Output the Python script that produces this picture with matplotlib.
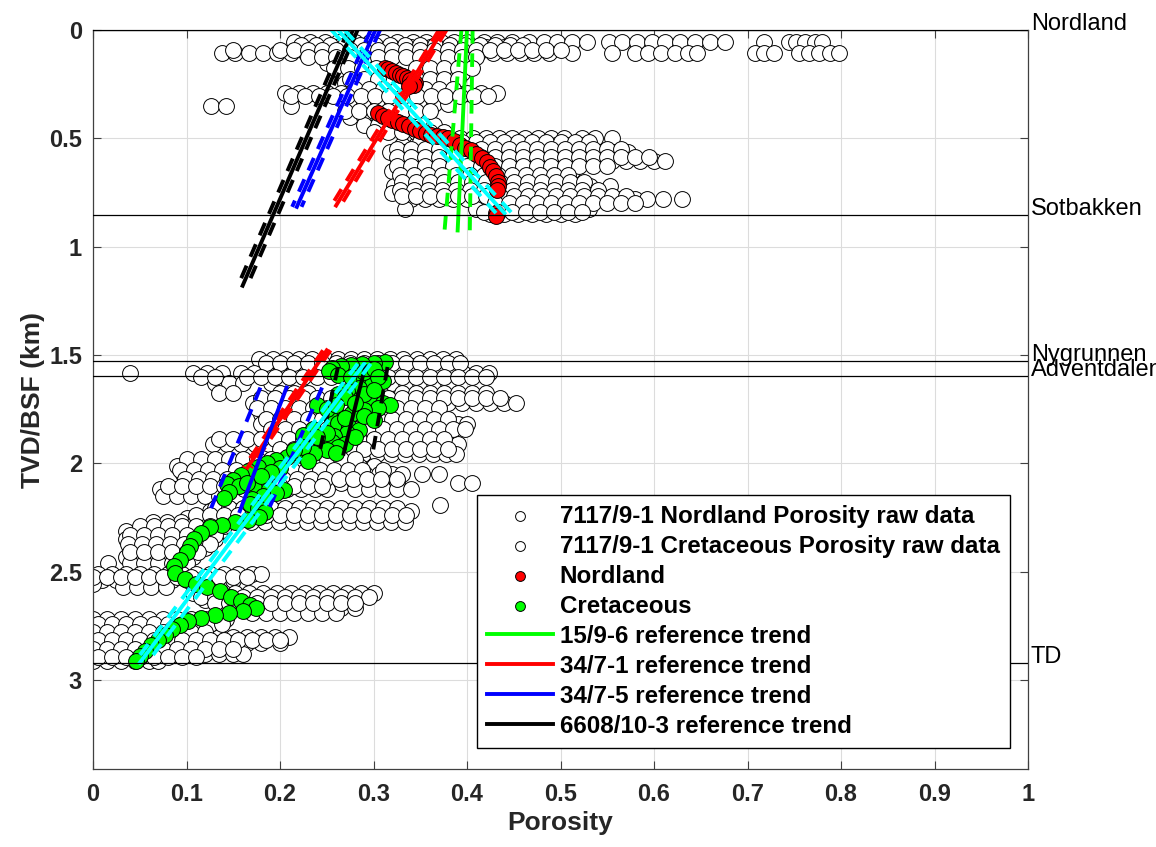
import matplotlib
matplotlib.use("Agg")
import matplotlib.pyplot as plt

plt.rcParams['font.family'] = ['Liberation Sans', 'DejaVu Sans']
plt.rcParams['font.weight'] = 'bold'

# Raw porosity data of 7117/9-1, one list of porosities per depth row (km)
nord_raw_depth = [0.055, 0.08, 0.106, 0.15, 0.20, 0.245, 0.29, 0.34, 0.35, 0.40, 0.44,
                  0.50, 0.53, 0.565, 0.605, 0.65, 0.685, 0.72, 0.75, 0.78, 0.825, 0.85,
                  0.068, 0.092, 0.125, 0.175, 0.225, 0.27, 0.305, 0.375, 0.47, 0.515,
                  0.548, 0.585, 0.628, 0.667, 0.703, 0.737, 0.765, 0.80, 0.84]
nord_raw_poro = [
    [0.215, 0.232, 0.248, 0.262, 0.28, 0.296, 0.31, 0.325, 0.342, 0.356, 0.372, 0.386, 0.40,
     0.418, 0.432, 0.448, 0.466, 0.482, 0.496, 0.512, 0.528, 0.552, 0.566, 0.582, 0.598, 0.612,
     0.628, 0.644, 0.66, 0.676, 0.718, 0.744, 0.752, 0.762, 0.772, 0.78],
    [0.24, 0.26, 0.28, 0.30, 0.32, 0.34, 0.36, 0.38, 0.40, 0.42, 0.44, 0.46],
    [0.138, 0.152, 0.167, 0.182, 0.197, 0.212, 0.228, 0.243, 0.258, 0.274, 0.29, 0.305, 0.32,
     0.336, 0.35, 0.366, 0.382, 0.397, 0.412, 0.428, 0.443, 0.458, 0.472, 0.488, 0.512, 0.555,
     0.58, 0.594, 0.608, 0.622, 0.636, 0.646, 0.708, 0.718, 0.728, 0.755, 0.766, 0.777, 0.788, 0.798],
    [0.25, 0.265, 0.28, 0.295, 0.31, 0.355, 0.37, 0.385, 0.40],
    [0.265, 0.28, 0.295, 0.35, 0.365, 0.38, 0.395],
    [0.27, 0.285, 0.30, 0.355, 0.37, 0.385],
    [0.205, 0.22, 0.235, 0.25, 0.265, 0.28, 0.295, 0.31, 0.325, 0.34, 0.355, 0.37, 0.385, 0.40,
     0.415, 0.432],
    [0.275, 0.29, 0.305, 0.32, 0.335, 0.35, 0.365, 0.38],
    [0.126, 0.142, 0.212],
    [0.275, 0.29, 0.305, 0.32, 0.335, 0.35],
    [0.29, 0.305, 0.32, 0.335, 0.35, 0.365],
    [0.378, 0.392, 0.406, 0.42, 0.434, 0.448, 0.462, 0.476, 0.49, 0.504, 0.523, 0.537, 0.555],
    [0.33, 0.345, 0.36, 0.375, 0.39, 0.405, 0.42, 0.435, 0.45, 0.465, 0.48, 0.495, 0.51, 0.525],
    [0.318, 0.333, 0.348, 0.363, 0.378, 0.393, 0.408, 0.423, 0.438, 0.453, 0.468, 0.483, 0.498,
     0.513, 0.528, 0.543, 0.558, 0.572],
    [0.33, 0.35, 0.37, 0.39, 0.41, 0.435, 0.45, 0.465, 0.48, 0.495, 0.51, 0.525, 0.54, 0.555,
     0.57, 0.585, 0.60, 0.612],
    [0.32, 0.335, 0.35, 0.365, 0.38, 0.395, 0.41, 0.425, 0.44, 0.455, 0.47, 0.485, 0.50, 0.512],
    [0.33, 0.345, 0.36, 0.375, 0.39, 0.405, 0.42, 0.435, 0.45, 0.465, 0.48, 0.495],
    [0.322, 0.337, 0.352, 0.367, 0.382, 0.397, 0.412, 0.427, 0.442, 0.457, 0.472, 0.487, 0.502,
     0.517, 0.532, 0.553],
    [0.32, 0.335, 0.35, 0.365, 0.38, 0.395, 0.41, 0.425, 0.44, 0.455, 0.47, 0.485, 0.50],
    [0.34, 0.355, 0.37, 0.385, 0.40, 0.415, 0.43, 0.445, 0.46, 0.475, 0.49, 0.505, 0.52, 0.535,
     0.55, 0.565, 0.58, 0.592, 0.61, 0.63],
    [0.334, 0.41, 0.425, 0.44, 0.455, 0.47, 0.485, 0.50, 0.515, 0.53],
    [0.425, 0.44, 0.455, 0.47, 0.485, 0.50, 0.515],
    [0.222, 0.238, 0.254, 0.27, 0.286, 0.302, 0.318, 0.334, 0.35, 0.366, 0.382, 0.398, 0.414,
     0.43, 0.446, 0.46],
    [0.15, 0.20, 0.215, 0.23, 0.245, 0.26, 0.275, 0.29, 0.305, 0.32, 0.335, 0.35, 0.365, 0.38,
     0.395, 0.41, 0.425, 0.44, 0.455, 0.47, 0.485, 0.50],
    [0.23, 0.245, 0.26, 0.275, 0.29, 0.305, 0.32, 0.335, 0.35, 0.365, 0.38, 0.395, 0.41],
    [0.258, 0.273, 0.288, 0.303, 0.345, 0.36, 0.375, 0.39, 0.405],
    [0.275, 0.29, 0.305, 0.345, 0.36, 0.375, 0.39],
    [0.28, 0.295, 0.31, 0.325, 0.34, 0.355, 0.37, 0.385],
    [0.212, 0.227, 0.242, 0.257, 0.272, 0.287, 0.302, 0.317, 0.332, 0.347, 0.362, 0.377, 0.392,
     0.407, 0.422],
    [0.27, 0.285, 0.30, 0.315, 0.33, 0.345, 0.36],
    [0.30, 0.315, 0.33, 0.345, 0.36, 0.375],
    [0.35, 0.365, 0.38, 0.395, 0.41, 0.425, 0.44, 0.455, 0.47, 0.485, 0.50, 0.515, 0.53],
    [0.325, 0.34, 0.355, 0.37, 0.385, 0.40, 0.415, 0.43, 0.445, 0.46, 0.475, 0.49, 0.505, 0.52,
     0.535, 0.55, 0.565],
    [0.325, 0.34, 0.355, 0.37, 0.385, 0.40, 0.415, 0.43, 0.445, 0.46, 0.475, 0.49, 0.505, 0.52,
     0.535, 0.55, 0.565, 0.58, 0.595],
    [0.325, 0.34, 0.355, 0.37, 0.385, 0.40, 0.415, 0.43, 0.445, 0.46, 0.475, 0.49, 0.505, 0.52,
     0.535, 0.55],
    [0.328, 0.343, 0.358, 0.373, 0.388, 0.403, 0.418, 0.433, 0.448, 0.463, 0.478, 0.493, 0.508],
    [0.33, 0.345, 0.36, 0.375, 0.39, 0.405, 0.42, 0.435, 0.45, 0.465, 0.48, 0.495, 0.51, 0.525],
    [0.328, 0.343, 0.358, 0.373, 0.388, 0.403, 0.418, 0.433, 0.448, 0.463, 0.478, 0.493, 0.508,
     0.523, 0.54],
    [0.33, 0.345, 0.36, 0.375, 0.39, 0.405, 0.42, 0.435, 0.45, 0.465, 0.48, 0.495, 0.51, 0.525,
     0.54, 0.555, 0.57],
    [0.43, 0.445, 0.46, 0.475, 0.49, 0.505, 0.52, 0.535, 0.55, 0.565, 0.58],
    [0.418, 0.433, 0.448, 0.463, 0.478, 0.493, 0.508, 0.523],
]

cret_raw_depth = [1.52, 1.55, 1.585, 1.63, 1.675, 1.72, 1.77, 1.82, 1.86, 1.91, 1.955, 2.01,
                  2.05, 2.09, 2.12, 2.15, 2.19, 2.22, 2.25, 2.27, 2.31, 2.35, 2.39, 2.43, 2.46,
                  2.51, 2.54, 2.555, 2.57, 2.60, 2.63, 2.665, 2.69, 2.72, 2.76, 2.80, 2.83,
                  2.88, 2.91,
                  1.535, 1.60, 1.70, 1.745, 1.795, 1.84, 1.885, 1.935, 1.98, 2.03, 2.07, 2.105,
                  2.205, 2.237, 2.29, 2.33, 2.37, 2.41, 2.525, 2.615, 2.645, 2.74, 2.78, 2.815,
                  2.855, 2.895]
cret_raw_poro = [
    [0.178, 0.192, 0.206, 0.22, 0.234, 0.248, 0.262, 0.276, 0.29, 0.304, 0.318, 0.332, 0.346,
     0.36, 0.374, 0.388],
    [0.20, 0.22, 0.24, 0.26, 0.28, 0.30, 0.32, 0.34, 0.36],
    [0.04, 0.107, 0.122, 0.138, 0.158, 0.172, 0.186, 0.20, 0.214, 0.228, 0.242, 0.256, 0.27,
     0.284, 0.298, 0.312, 0.326, 0.34, 0.354, 0.368, 0.382, 0.396, 0.41, 0.424],
    [0.13, 0.145, 0.16, 0.19, 0.205, 0.22, 0.32, 0.335, 0.35, 0.365, 0.38],
    [0.135, 0.15, 0.20, 0.215, 0.23, 0.33, 0.345, 0.36, 0.375, 0.39, 0.405, 0.42],
    [0.171, 0.186, 0.20, 0.215, 0.23, 0.245, 0.26, 0.275, 0.29, 0.305, 0.32, 0.335, 0.35, 0.365,
     0.38, 0.395, 0.41, 0.425, 0.44, 0.452],
    [0.18, 0.195, 0.21, 0.225, 0.24, 0.255, 0.27, 0.285, 0.30, 0.315, 0.33, 0.345, 0.36],
    [0.18, 0.195, 0.21, 0.225, 0.24, 0.255, 0.27, 0.285, 0.30, 0.315, 0.33, 0.345, 0.36, 0.375,
     0.39, 0.40],
    [0.20, 0.215, 0.23, 0.245, 0.26, 0.275, 0.29, 0.305, 0.32, 0.335, 0.35, 0.365, 0.38],
    [0.128, 0.143, 0.158, 0.173, 0.188, 0.203, 0.218, 0.233, 0.248, 0.263, 0.278, 0.293, 0.308,
     0.323, 0.338, 0.353, 0.368, 0.383, 0.39],
    [0.214, 0.229, 0.244, 0.259, 0.274, 0.289, 0.304, 0.319, 0.334, 0.349, 0.364, 0.378, 0.388],
    [0.09, 0.105, 0.12, 0.135, 0.15, 0.165, 0.18, 0.195, 0.21, 0.225, 0.24, 0.255, 0.27, 0.285,
     0.30],
    [0.096, 0.111, 0.126, 0.141, 0.156, 0.171, 0.186, 0.201, 0.216, 0.231, 0.246, 0.261, 0.276,
     0.291, 0.306, 0.32, 0.33, 0.352, 0.37],
    [0.10, 0.115, 0.13, 0.145, 0.16, 0.175, 0.19, 0.205, 0.22, 0.235, 0.25, 0.265, 0.28, 0.295,
     0.31, 0.325, 0.39, 0.405],
    [0.072, 0.087, 0.102, 0.117, 0.132, 0.147, 0.162, 0.177, 0.192, 0.207, 0.222, 0.237, 0.25,
     0.28, 0.295, 0.31, 0.325, 0.34],
    [0.075, 0.09, 0.105, 0.12, 0.135],
    [0.371],
    [0.125, 0.14, 0.155, 0.17, 0.185, 0.20, 0.215, 0.23, 0.245, 0.26, 0.275, 0.29, 0.305, 0.32,
     0.34],
    [0.10, 0.115, 0.13, 0.145, 0.16, 0.175, 0.19, 0.205, 0.22, 0.235, 0.25, 0.265, 0.28, 0.30],
    [0.064, 0.079, 0.094, 0.109, 0.124, 0.139, 0.154, 0.169, 0.184, 0.199, 0.214, 0.229, 0.244,
     0.259, 0.274, 0.289, 0.304, 0.319, 0.334],
    [0.035, 0.05, 0.065, 0.08, 0.095, 0.11, 0.125, 0.136],
    [0.035, 0.05, 0.065, 0.08, 0.095, 0.11, 0.13],
    [0.04, 0.055, 0.07, 0.085, 0.10, 0.12],
    [0.035, 0.05, 0.065, 0.08, 0.095, 0.107],
    [0.016, 0.04, 0.055, 0.07, 0.085, 0.10],
    [0.005, 0.02, 0.035, 0.05, 0.065, 0.08, 0.095, 0.11, 0.125, 0.14, 0.155, 0.17, 0.18],
    [0.01, 0.025, 0.04, 0.055, 0.07, 0.085, 0.10, 0.115, 0.13, 0.15],
    [0.0],
    [0.032, 0.047, 0.062, 0.078],
    [0.107, 0.122, 0.137, 0.152, 0.167, 0.182, 0.197, 0.212, 0.227, 0.242, 0.257, 0.272, 0.287,
     0.30],
    [0.12, 0.135, 0.15, 0.165, 0.18, 0.195, 0.21, 0.225, 0.24, 0.255, 0.27, 0.28],
    [0.16, 0.175, 0.19, 0.205, 0.22, 0.235, 0.25, 0.265, 0.28],
    [0.17, 0.185, 0.20, 0.215, 0.23, 0.245, 0.26],
    [0.0, 0.015, 0.03, 0.045, 0.06, 0.075, 0.09, 0.105, 0.12, 0.135, 0.142],
    [0.01, 0.025, 0.04, 0.055, 0.07, 0.085, 0.10, 0.115, 0.13],
    [0.0, 0.015, 0.03, 0.045, 0.06, 0.075, 0.09, 0.105, 0.12, 0.135, 0.15, 0.165, 0.18, 0.195,
     0.21],
    [0.0, 0.015, 0.03, 0.045, 0.06, 0.075, 0.09, 0.105, 0.12, 0.135, 0.15, 0.165, 0.18, 0.20],
    [0.0, 0.015, 0.03, 0.045, 0.06, 0.075, 0.09, 0.105, 0.12, 0.135, 0.15, 0.16],
    [0.0, 0.015, 0.03, 0.045, 0.06, 0.07],
    [0.185, 0.2, 0.215, 0.23, 0.245, 0.26, 0.275, 0.29, 0.305, 0.32, 0.335, 0.35, 0.365, 0.38,
     0.392],
    [0.115, 0.13, 0.165, 0.18, 0.195, 0.21, 0.225, 0.24, 0.255, 0.27, 0.285, 0.30, 0.315, 0.33,
     0.345, 0.36, 0.375, 0.39, 0.405, 0.42],
    [0.18, 0.195, 0.21, 0.225, 0.24, 0.255, 0.27, 0.285, 0.30, 0.315, 0.33, 0.345, 0.36, 0.375,
     0.39, 0.405, 0.42, 0.435],
    [0.175, 0.19, 0.205, 0.22, 0.235, 0.25, 0.265, 0.28, 0.295, 0.31, 0.325, 0.34, 0.355, 0.37],
    [0.185, 0.2, 0.215, 0.23, 0.245, 0.26, 0.275, 0.29, 0.305, 0.32, 0.335, 0.35, 0.365, 0.38],
    [0.19, 0.205, 0.22, 0.235, 0.25, 0.265, 0.28, 0.295, 0.31, 0.325, 0.34, 0.355, 0.37, 0.385,
     0.398],
    [0.135, 0.15, 0.165, 0.18, 0.195, 0.21, 0.225, 0.24, 0.255, 0.27, 0.285, 0.30, 0.315, 0.33,
     0.345, 0.36, 0.375],
    [0.2, 0.215, 0.23, 0.245, 0.26, 0.275, 0.29, 0.305, 0.32, 0.335, 0.35, 0.365, 0.38],
    [0.1, 0.115, 0.13, 0.145, 0.16, 0.175, 0.19, 0.205, 0.22, 0.235, 0.25, 0.265, 0.28],
    [0.093, 0.108, 0.123, 0.138, 0.153, 0.168, 0.183, 0.198, 0.213, 0.228, 0.243, 0.258, 0.273,
     0.288, 0.31],
    [0.098, 0.113, 0.128, 0.143, 0.158, 0.173, 0.188, 0.203, 0.218, 0.233, 0.248, 0.263, 0.278,
     0.293, 0.308, 0.325],
    [0.08, 0.095, 0.11, 0.125, 0.14, 0.155, 0.17, 0.185, 0.2, 0.215, 0.23, 0.245],
    [0.13, 0.145, 0.16, 0.175, 0.19, 0.205, 0.22, 0.235, 0.25, 0.265, 0.28, 0.295, 0.31, 0.325],
    [0.11, 0.125, 0.14, 0.155, 0.17, 0.185, 0.2, 0.215, 0.23, 0.245, 0.26, 0.275, 0.29, 0.305,
     0.32, 0.335],
    [0.05, 0.065, 0.08, 0.095, 0.11, 0.125, 0.14],
    [0.04, 0.055, 0.07, 0.085, 0.1, 0.115, 0.13],
    [0.037, 0.052, 0.067, 0.082, 0.097, 0.112, 0.125],
    [0.04, 0.055, 0.07, 0.085, 0.1, 0.112],
    [0.0, 0.015, 0.03, 0.045, 0.06, 0.075, 0.09, 0.105, 0.12, 0.135, 0.15, 0.165],
    [0.115, 0.13, 0.145, 0.16, 0.175, 0.19, 0.205, 0.22, 0.235, 0.25, 0.265, 0.28, 0.295],
    [0.13, 0.145, 0.16, 0.175, 0.19, 0.205, 0.22, 0.235, 0.25, 0.265, 0.28],
    [0.005, 0.02, 0.035, 0.05, 0.065, 0.08, 0.095, 0.11, 0.125, 0.138],
    [0.0, 0.015, 0.03, 0.045, 0.06, 0.075, 0.09, 0.105, 0.12],
    [0.005, 0.02, 0.035, 0.05, 0.065, 0.08, 0.095, 0.11, 0.125, 0.14, 0.155, 0.17, 0.185, 0.2],
    [0.0, 0.015, 0.03, 0.045, 0.06, 0.075, 0.09, 0.105, 0.12, 0.135, 0.15],
    [0.005, 0.02, 0.035, 0.05, 0.065, 0.08, 0.095, 0.11],
]

# Selected Nordland / Cretaceous porosity picks
nord_por = [0.312, 0.316, 0.32, 0.324, 0.328, 0.332, 0.336, 0.339, 0.342, 0.344, 0.343, 0.338,
            0.305, 0.31, 0.315, 0.32, 0.326, 0.332, 0.338, 0.344, 0.35, 0.356, 0.362, 0.368,
            0.374, 0.38, 0.386, 0.392, 0.398, 0.404, 0.41, 0.416, 0.421, 0.425, 0.428, 0.431,
            0.433, 0.433, 0.432, 0.431, 0.431]
nord_dep = [0.175, 0.182, 0.19, 0.198, 0.206, 0.214, 0.222, 0.23, 0.238, 0.246, 0.254, 0.26,
            0.385, 0.395, 0.405, 0.415, 0.425, 0.435, 0.445, 0.455, 0.465, 0.475, 0.485, 0.49,
            0.495, 0.50, 0.51, 0.53, 0.545, 0.555, 0.57, 0.59, 0.61, 0.63, 0.65, 0.675,
            0.70, 0.72, 0.74, 0.845, 0.86]

cret_por = [0.312, 0.30, 0.288, 0.276, 0.265, 0.256, 0.252, 0.262, 0.276, 0.29, 0.304, 0.31,
            0.298, 0.285, 0.272, 0.262, 0.27, 0.284, 0.298, 0.31, 0.318, 0.305, 0.29, 0.276,
            0.264, 0.256, 0.262, 0.274, 0.284, 0.272, 0.258, 0.244, 0.256, 0.27, 0.262, 0.25,
            0.236, 0.222, 0.208, 0.196, 0.186, 0.176, 0.166, 0.158, 0.15, 0.143, 0.156, 0.172,
            0.188, 0.204, 0.196, 0.182, 0.17, 0.168, 0.176, 0.184, 0.178, 0.166, 0.152, 0.138,
            0.125, 0.115, 0.108, 0.104, 0.10, 0.093, 0.087, 0.088, 0.098, 0.11, 0.122, 0.136,
            0.148, 0.158, 0.168, 0.174, 0.16, 0.145, 0.13, 0.115, 0.102, 0.093, 0.085, 0.077,
            0.069, 0.062, 0.056, 0.05, 0.046,
            0.29, 0.30, 0.24, 0.25, 0.235, 0.225, 0.29, 0.30, 0.225, 0.215, 0.20, 0.19, 0.18,
            0.165, 0.145, 0.14, 0.29, 0.28, 0.26, 0.305, 0.30, 0.25, 0.24, 0.27, 0.28, 0.26, 0.23]
cret_dep = [1.53, 1.535, 1.54, 1.545, 1.55, 1.56, 1.575, 1.59, 1.60, 1.605, 1.61, 1.62,
            1.635, 1.65, 1.665, 1.68, 1.695, 1.705, 1.715, 1.72, 1.73, 1.745, 1.755, 1.77,
            1.785, 1.80, 1.815, 1.83, 1.845, 1.86, 1.875, 1.89, 1.90, 1.91, 1.925, 1.94,
            1.952, 1.962, 1.972, 1.985, 2.0, 2.015, 2.035, 2.055, 2.075, 2.095, 2.105, 2.112,
            2.118, 2.124, 2.138, 2.15, 2.165, 2.185, 2.205, 2.225, 2.245, 2.26, 2.272, 2.283,
            2.294, 2.32, 2.35, 2.38, 2.41, 2.445, 2.475, 2.505, 2.535, 2.555, 2.57, 2.59,
            2.615, 2.635, 2.652, 2.668, 2.68, 2.69, 2.70, 2.712, 2.725, 2.745, 2.765, 2.79,
            2.815, 2.84, 2.865, 2.89, 2.91,
            1.58, 1.565, 1.73, 1.75, 1.84, 1.87, 1.78, 1.80, 1.925, 1.94, 2.02, 2.04, 2.06,
            2.09, 2.13, 2.16, 1.68, 1.72, 1.73, 1.60, 1.66, 1.86, 1.88, 1.79, 1.88, 1.95, 1.99]

# Reference trends: depth ends, centre porosity, lower and upper bounds
g_dep = [0.0, 0.925]
g_mid = [0.400, 0.390]
g_lo = [0.394, 0.376]
g_hi = [0.406, 0.403]

r1_dep = [0.0, 0.81]
r1_mid = [0.374, 0.260]
r1_lo = [0.370, 0.255]
r1_hi = [0.378, 0.265]
r2_dep = [1.478, 2.02]
r2_mid = [0.250, 0.165]
r2_lo = [0.246, 0.161]
r2_hi = [0.254, 0.169]

b1_dep = [0.0, 0.816]
b1_mid = [0.302, 0.218]
b1_lo = [0.297, 0.213]
b1_hi = [0.307, 0.223]
b2_dep = [1.65, 2.22]
b2_mid = [0.207, 0.157]
b2_lo = [0.179, 0.125]
b2_hi = [0.245, 0.187]

k1_dep = [0.0, 1.18]
k1_mid = [0.278, 0.160]
k1_lo = [0.273, 0.155]
k1_hi = [0.283, 0.165]
k2_dep = [1.555, 1.955]
k2_mid = [0.291, 0.268]
k2_lo = [0.262, 0.242]
k2_hi = [0.315, 0.299]

# 7117/9-1 fitted trend
c1_dep = [0.0, 0.845]
c1_mid = [0.262, 0.440]
c1_lo = [0.255, 0.431]
c1_hi = [0.269, 0.448]
c2_dep = [1.54, 2.92]
c2_mid = [0.290, 0.050]
c2_lo = [0.283, 0.044]
c2_hi = [0.297, 0.058]

tops_name = ["Nordland", "Sotbakken", "Nygrunnen", "Adventdalen", "TD"]
tops_depth = [0.0, 0.855, 1.527, 1.597, 2.921]

x_ticks = [0, 0.1, 0.2, 0.3, 0.4, 0.5, 0.6, 0.7, 0.8, 0.9, 1]
x_labels = ["0", "0.1", "0.2", "0.3", "0.4", "0.5", "0.6", "0.7", "0.8", "0.9", "1"]
y_ticks = [0, 0.5, 1, 1.5, 2, 2.5, 3]
y_labels = ["0", "0.5", "1", "1.5", "2", "2.5", "3"]


def flat(depths, poros):
    xs, ys = [], []
    for d, row in zip(depths, poros):
        for p in row:
            xs.append(p)
            ys.append(d)
    return xs, ys


fig = plt.figure(figsize=(11.56, 8.47), dpi=100)
ax = fig.add_axes([93 / 1156, 1 - 769 / 847, 935 / 1156, 739 / 847])

msize = 130
nx, ny = flat(nord_raw_depth, nord_raw_poro)
cx, cy = flat(cret_raw_depth, cret_raw_poro)
h_rn = ax.scatter(nx, ny, s=msize, facecolors='white', edgecolors='black', linewidths=0.7, zorder=2)
h_rc = ax.scatter(cx, cy, s=msize, facecolors='white', edgecolors='black', linewidths=0.7, zorder=2)
h_n = ax.scatter(nord_por, nord_dep, s=msize, facecolors=(1, 0, 0), edgecolors='black', linewidths=0.7, zorder=3)
h_c = ax.scatter(cret_por, cret_dep, s=msize, facecolors=(0, 1, 0), edgecolors='black', linewidths=0.7, zorder=3)

lw = 2.8
dash = (0, (3.5, 2.5))
trends = [
    ((0, 1, 0), g_dep, g_mid, g_lo, g_hi),
    ((1, 0, 0), r1_dep, r1_mid, r1_lo, r1_hi),
    ((1, 0, 0), r2_dep, r2_mid, r2_lo, r2_hi),
    ((0, 0, 1), b1_dep, b1_mid, b1_lo, b1_hi),
    ((0, 0, 1), b2_dep, b2_mid, b2_lo, b2_hi),
    ((0, 0, 0), k1_dep, k1_mid, k1_lo, k1_hi),
    ((0, 0, 0), k2_dep, k2_mid, k2_lo, k2_hi),
    ((0, 1, 1), c1_dep, c1_mid, c1_lo, c1_hi),
    ((0, 1, 1), c2_dep, c2_mid, c2_lo, c2_hi),
]
line_handles = {}
for col, dep, mid, lo, hi in trends:
    h, = ax.plot(mid, dep, color=col, lw=lw, zorder=4)
    ax.plot(lo, dep, color=col, lw=lw, ls=dash, zorder=4)
    ax.plot(hi, dep, color=col, lw=lw, ls=dash, zorder=4)
    line_handles.setdefault(col, h)

# formation tops
for name, d in zip(tops_name, tops_depth):
    ax.axhline(d, color='black', lw=0.9, zorder=5)
    ax.text(1.003, d, name, transform=ax.get_yaxis_transform(), ha='left', va='baseline',
            fontsize=17, fontweight='normal', clip_on=False)

ax.set_xlim(0, 1)
ax.set_ylim(3.41, 0)
ax.set_xticks(x_ticks)
ax.set_xticklabels(x_labels)
ax.set_yticks(y_ticks)
ax.set_yticklabels(y_labels)
ax.tick_params(direction='in', length=6, width=0.8, top=True, right=True,
               labelsize=17, labelcolor='#262626', color='#404040')
ax.tick_params(axis='x', pad=10)
ax.tick_params(axis='y', pad=8)
ax.grid(True, color='#dcdcdc', lw=0.8)
ax.set_axisbelow(True)
for sp in ax.spines.values():
    sp.set_color('#404040')
    sp.set_linewidth(0.9)

ax.set_xlabel("Porosity", fontsize=19, fontweight='bold', color='#262626', labelpad=4)
ax.set_ylabel("TVD/BSF (km)", fontsize=19, fontweight='bold', color='#262626', labelpad=3)

handles = [h_rn, h_rc, h_n, h_c, line_handles[(0, 1, 0)], line_handles[(1, 0, 0)],
           line_handles[(0, 0, 1)], line_handles[(0, 0, 0)]]
labels = ["7117/9-1 Nordland Porosity raw data", "7117/9-1 Cretaceous Porosity raw data",
          "Nordland", "Cretaceous", "15/9-6 reference trend", "34/7-1 reference trend",
          "34/7-5 reference trend", "6608/10-3 reference trend"]
leg = ax.legend(handles, labels, loc='lower right', bbox_to_anchor=(1010 / 1156, 1 - 748 / 847),
                bbox_transform=fig.transFigure, borderaxespad=0, fontsize=17.4, fancybox=False,
                edgecolor='black', framealpha=1, markerscale=0.62, handlelength=2.7,
                handletextpad=0.3, borderpad=0.42, labelspacing=0.29)
leg.get_frame().set_linewidth(1.0)
leg.set_zorder(10)

fig.savefig("out.png", dpi=100, facecolor='white')
